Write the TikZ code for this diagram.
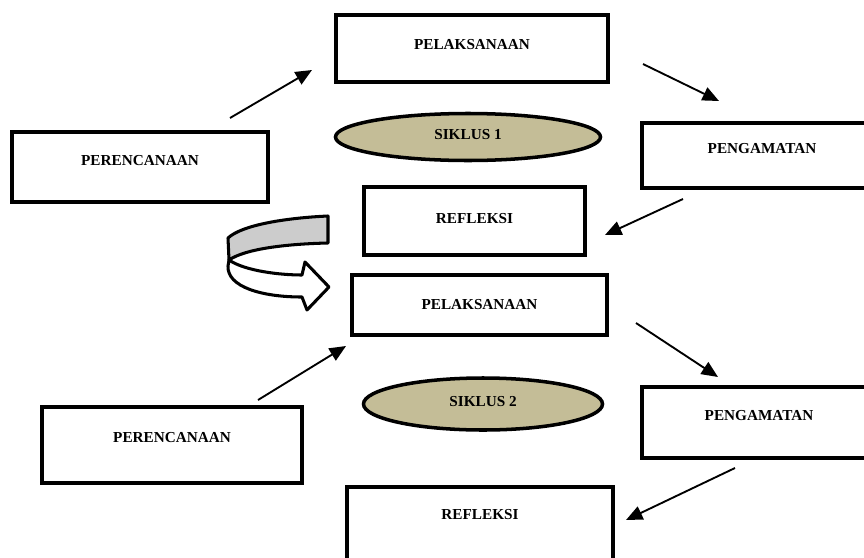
\documentclass[tikz,border=0pt]{standalone}
\usepackage{fontspec}
\setmainfont{Liberation Serif}
\usetikzlibrary{positioning, arrows.meta, shapes.geometric}

\begin{document}
\begin{tikzpicture}[
        x=0.03cm, y=-0.03cm,
        >={Triangle[length=14pt, width=12pt]},
        box/.style={draw, line width=3pt, rectangle, fill=white, inner sep=0pt,
            font=\fontsize{13}{15}\selectfont\bfseries, text depth=0.4cm},
        cycle/.style={draw, line width=3pt, ellipse, fill=khaki, inner sep=0pt,
            font=\fontsize{13}{15}\selectfont\bfseries, text depth=0.15cm},
        flow/.style={->, line width=1.6pt},
    ]
    \definecolor{khaki}{HTML}{C4BD97}
    \useasboundingbox (0,0) rectangle (864,558);

    % First cycle
    \node[box, minimum width=8.16cm, minimum height=2.01cm, text depth=0.25cm] (P1) at (472,48.5) {PELAKSANAAN};
    \node[box, minimum width=7.68cm, minimum height=2.1cm] (R1) at (140,167) {PERENCANAAN};
    \node[cycle, minimum width=7.95cm, minimum height=1.41cm] (S1) at (468,137) {SIKLUS 1};
    \node[box, minimum width=7.2cm, minimum height=1.95cm, text depth=0.45cm] (A1) at (762,155.5) {PENGAMATAN};
    \node[box, minimum width=6.63cm, minimum height=2.04cm, text depth=0.15cm] (F1) at (474.5,221) {REFLEKSI};

    % Second cycle
    \node[box, minimum width=7.65cm, minimum height=1.8cm, text depth=0.05cm] (P2) at (479.5,305) {PELAKSANAAN};
    \node[cycle, minimum width=7.17cm, minimum height=1.56cm] (S2) at (483,404) {SIKLUS 2};
    \node[box, minimum width=7.02cm, minimum height=2.13cm, text depth=0.45cm] (A2) at (759,422.5) {PENGAMATAN};
    \node[box, minimum width=7.8cm, minimum height=2.28cm, text depth=0.45cm] (R2) at (172,445) {PERENCANAAN};
    \node[box, minimum width=7.98cm, minimum height=2.4cm, text depth=0.75cm] (F2) at (480,527) {REFLEKSI};

    % Free ends of the arrows
    \coordinate (r1s) at (230,118);  \coordinate (r1t) at (312,70);
    \coordinate (p1s) at (643,64);   \coordinate (p1t) at (719,101);
    \coordinate (a1s) at (683,199);  \coordinate (a1t) at (605,235);
    \coordinate (r2s) at (258,400);  \coordinate (r2t) at (346,346);
    \coordinate (p2s) at (636,323);  \coordinate (p2t) at (718,377);
    \coordinate (a2s) at (735,468);  \coordinate (a2t) at (626,520);

    \foreach \src/\dst in {r1s/r1t, p1s/p1t, a1s/a1t, r2s/r2t, p2s/p2t, a2s/a2t}
        \draw[flow] (\src) -- (\dst);

    % Curved arrow from the first cycle to the second
    \draw[line width=2.6pt, line join=round, fill=black!20]
        (328,216) -- (328,243) .. controls (285,244) and (245,249) .. (229,260)
        -- (228,238) .. controls (242,225) and (285,218) .. (328,216) -- cycle;
    \draw[line width=2.6pt, line join=round, fill=white]
        (229,260) .. controls (245,271) and (280,275) .. (302,275)
        -- (305,262) -- (329,287) -- (307,310) -- (302,297)
        .. controls (262,297) and (227,287) .. (228,266) -- cycle;
\end{tikzpicture}
\end{document}
